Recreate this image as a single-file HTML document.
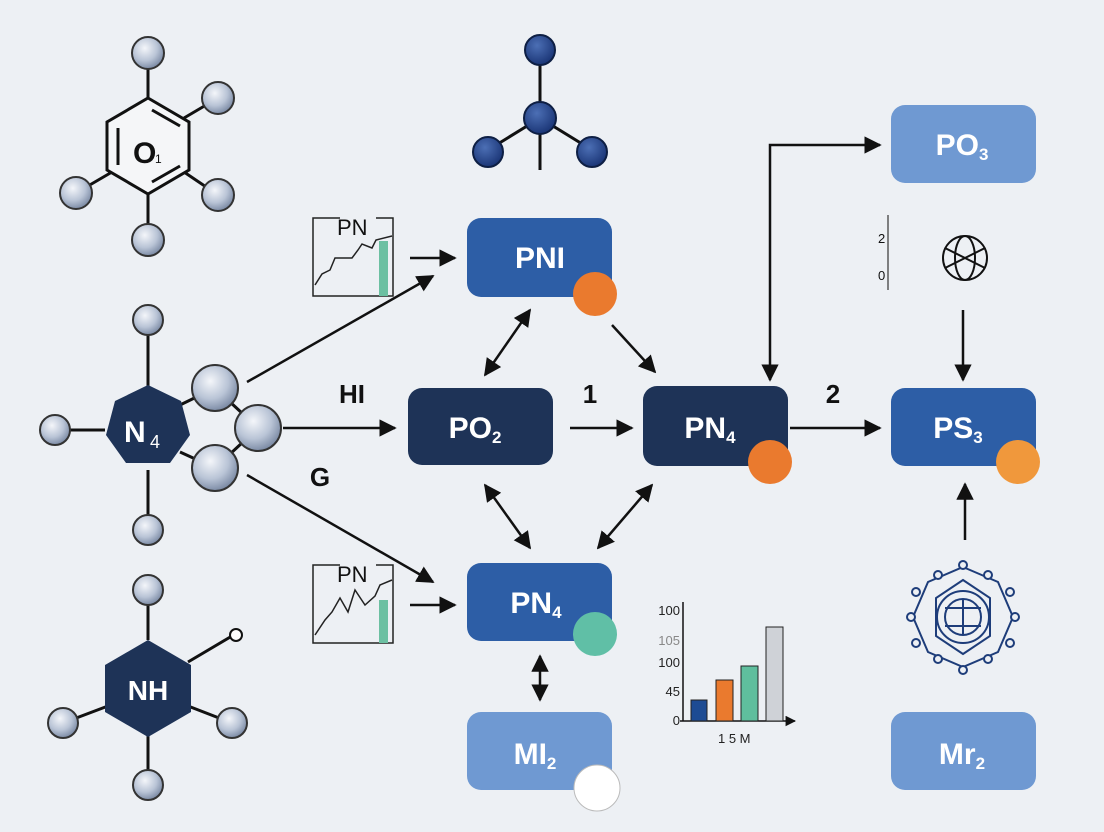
<!DOCTYPE html>
<html><head><meta charset="utf-8"><style>
html,body{margin:0;padding:0;background:#edf0f4;}
svg{display:block}
text{font-family:"Liberation Sans",sans-serif;}
</style></head><body>
<svg width="1104" height="832" viewBox="0 0 1104 832" xmlns="http://www.w3.org/2000/svg">
<defs>
<radialGradient id="ball" cx="40%" cy="35%" r="65%"><stop offset="0" stop-color="#f4f6fa"/><stop offset="0.6" stop-color="#b9c4d6"/><stop offset="1" stop-color="#7d8ca6"/></radialGradient>
<radialGradient id="dball" cx="40%" cy="35%" r="65%"><stop offset="0" stop-color="#4c6fb5"/><stop offset="1" stop-color="#1b3677"/></radialGradient>
<marker id="ah" viewBox="0 0 10 10" refX="9" refY="5" markerWidth="7" markerHeight="7" orient="auto-start-reverse"><path d="M0,0 L10,5 L0,10 z" fill="#111"/></marker>
</defs>
<rect width="1104" height="832" fill="#edf0f4"/>
<g stroke="#111" stroke-width="3" fill="none">
<line x1="148" y1="53" x2="148" y2="110"/><line x1="218" y1="98" x2="184" y2="118"/><line x1="218" y1="195" x2="184" y2="172"/><line x1="148" y1="240" x2="148" y2="194"/><line x1="76" y1="193" x2="112" y2="172"/>
<polygon points="148,98 189,122 189,170 148,194 107,170 107,122" fill="#f5f6f8"/>
<line x1="118" y1="128" x2="118" y2="165"/><line x1="152" y1="110" x2="180" y2="126"/><line x1="152" y1="182" x2="180" y2="166"/>
<line x1="148" y1="320" x2="148" y2="390"/><line x1="148" y1="530" x2="148" y2="470"/><line x1="55" y1="430" x2="105" y2="430"/>
<line x1="180" y1="405" x2="215" y2="388"/><line x1="180" y1="452" x2="215" y2="468"/><line x1="215" y1="388" x2="258" y2="428"/><line x1="215" y1="468" x2="258" y2="428"/>
<line x1="148" y1="590" x2="148" y2="640"/><line x1="232" y1="636" x2="188" y2="662"/><line x1="63" y1="723" x2="108" y2="706"/><line x1="232" y1="723" x2="188" y2="706"/><line x1="148" y1="785" x2="148" y2="735"/>
<line x1="540" y1="50" x2="540" y2="170"/><line x1="540" y1="118" x2="488" y2="150"/><line x1="540" y1="118" x2="592" y2="150"/>
</g>
<polygon points="148,385 181,401 190,435 170,463 126,463 106,435 115,401" fill="#1e3357"/>
<polygon points="148,640 191,665 191,712 148,737 105,712 105,665" fill="#1e3357"/>
<g fill="url(#ball)" stroke="#333" stroke-width="2">
<circle cx="148" cy="53" r="16"/><circle cx="218" cy="98" r="16"/><circle cx="218" cy="195" r="16"/><circle cx="148" cy="240" r="16"/><circle cx="76" cy="193" r="16"/>
<circle cx="148" cy="320" r="15"/><circle cx="148" cy="530" r="15"/><circle cx="55" cy="430" r="15"/>
<circle cx="215" cy="388" r="23"/><circle cx="258" cy="428" r="23"/><circle cx="215" cy="468" r="23"/>
<circle cx="148" cy="590" r="15"/><circle cx="63" cy="723" r="15"/><circle cx="232" cy="723" r="15"/><circle cx="148" cy="785" r="15"/>
</g>
<circle cx="236" cy="635" r="6" fill="#fff" stroke="#111" stroke-width="2"/>
<g fill="url(#dball)" stroke="#0e1f44" stroke-width="2">
<circle cx="540" cy="50" r="15"/><circle cx="540" cy="118" r="16"/><circle cx="488" cy="152" r="15"/><circle cx="592" cy="152" r="15"/>
</g>
<text x="133" y="163" font-size="30" font-weight="bold" fill="#111">O</text><text x="155" y="163" font-size="12" fill="#111">1</text>
<text x="124" y="442" font-size="30" font-weight="bold" fill="#fff">N</text><text x="150" y="448" font-size="18" fill="#fff">4</text>
<text x="148" y="700" font-size="28" font-weight="bold" fill="#fff" text-anchor="middle">NH</text>
<g fill="none" stroke="#222" stroke-width="1.5">
<rect x="313" y="218" width="80" height="78"/><polyline points="315,285 322,274 330,270 335,258 352,258 358,250 362,244 372,248 376,240 392,236"/>
<rect x="313" y="565" width="80" height="78"/><polyline points="315,635 325,620 332,612 340,598 348,612 355,590 365,605 375,596 380,585 392,580"/>
</g>
<rect x="340" y="210" width="36" height="26" fill="#edf0f4"/><rect x="340" y="557" width="36" height="26" fill="#edf0f4"/>
<rect x="379" y="241" width="9" height="55" fill="#6cc0a2"/><rect x="379" y="600" width="9" height="43" fill="#6cc0a2"/>
<text x="337" y="235" font-size="22" fill="#111">PN</text><text x="337" y="582" font-size="22" fill="#111">PN</text>
<g stroke="#111" stroke-width="2.5" fill="none">
<line x1="247" y1="382" x2="433" y2="276" marker-end="url(#ah)"/>
<line x1="283" y1="428" x2="395" y2="428" marker-end="url(#ah)"/>
<line x1="247" y1="475" x2="433" y2="582" marker-end="url(#ah)"/>
<line x1="410" y1="258" x2="455" y2="258" marker-end="url(#ah)"/>
<line x1="410" y1="605" x2="455" y2="605" marker-end="url(#ah)"/>
<line x1="530" y1="310" x2="485" y2="375" marker-start="url(#ah)" marker-end="url(#ah)"/>
<line x1="612" y1="325" x2="655" y2="372" marker-end="url(#ah)"/>
<line x1="570" y1="428" x2="632" y2="428" marker-end="url(#ah)"/>
<line x1="485" y1="485" x2="530" y2="548" marker-start="url(#ah)" marker-end="url(#ah)"/>
<line x1="652" y1="485" x2="598" y2="548" marker-start="url(#ah)" marker-end="url(#ah)"/>
<line x1="790" y1="428" x2="880" y2="428" marker-end="url(#ah)"/>
<path d="M770,380 L770,145 L880,145" marker-start="url(#ah)" marker-end="url(#ah)"/>
<line x1="963" y1="310" x2="963" y2="380" marker-end="url(#ah)"/>
<line x1="965" y1="540" x2="965" y2="484" marker-end="url(#ah)"/>
<line x1="540" y1="656" x2="540" y2="700" marker-start="url(#ah)" marker-end="url(#ah)"/>
</g>
<text x="352" y="403" font-size="26" font-weight="bold" fill="#111" text-anchor="middle">HI</text>
<text x="320" y="486" font-size="26" font-weight="bold" fill="#111" text-anchor="middle">G</text>
<text x="590" y="403" font-size="26" font-weight="bold" fill="#111" text-anchor="middle">1</text>
<text x="833" y="403" font-size="26" font-weight="bold" fill="#111" text-anchor="middle">2</text>
<rect x="467" y="218" width="145" height="79" rx="14" fill="#2d5ea6"/>
<rect x="408" y="388" width="145" height="77" rx="14" fill="#1e3357"/>
<rect x="643" y="386" width="145" height="80" rx="14" fill="#1e3357"/>
<rect x="891" y="388" width="145" height="78" rx="14" fill="#2d5ea6"/>
<rect x="467" y="563" width="145" height="78" rx="14" fill="#2d5ea6"/>
<rect x="467" y="712" width="145" height="78" rx="14" fill="#6f99d2"/>
<rect x="891" y="105" width="145" height="78" rx="14" fill="#6f99d2"/>
<rect x="891" y="712" width="145" height="78" rx="14" fill="#6f99d2"/>
<circle cx="595" cy="294" r="22" fill="#ea7a2e"/>
<circle cx="770" cy="462" r="22" fill="#ea7a2e"/>
<circle cx="1018" cy="462" r="22" fill="#f0983c"/>
<circle cx="595" cy="634" r="22" fill="#60bfa6"/>
<circle cx="597" cy="788" r="23" fill="#fff" stroke="#bbb" stroke-width="1"/>
<g font-size="30" font-weight="bold" fill="#fff" text-anchor="middle">
<text x="540" y="268">PNI</text>
<text x="475" y="438">PO<tspan font-size="17" dy="5">2</tspan></text>
<text x="710" y="438">PN<tspan font-size="17" dy="5">4</tspan></text>
<text x="958" y="438">PS<tspan font-size="17" dy="5">3</tspan></text>
<text x="536" y="613">PN<tspan font-size="17" dy="5">4</tspan></text>
<text x="535" y="764">MI<tspan font-size="17" dy="5">2</tspan></text>
<text x="962" y="155">PO<tspan font-size="17" dy="5">3</tspan></text>
<text x="962" y="764">Mr<tspan font-size="17" dy="5">2</tspan></text>
</g>
<g stroke="#333" stroke-width="1.2"><line x1="888" y1="215" x2="888" y2="290"/></g>
<text x="878" y="243" font-size="13" fill="#111">2</text><text x="878" y="280" font-size="13" fill="#111">0</text>
<g fill="none" stroke="#111" stroke-width="2"><circle cx="965" cy="258" r="22"/><ellipse cx="965" cy="258" rx="10" ry="22"/><line x1="945" y1="248" x2="985" y2="268"/><line x1="945" y1="268" x2="985" y2="248"/></g>
<!-- network icon -->
<g fill="none" stroke="#1e3d7a" stroke-width="2">
<polygon points="963,567 998,582 1013,617 998,652 963,667 928,652 913,617 928,582"/>
<polygon points="963,580 990,598 990,636 963,654 936,636 936,598"/>
<circle cx="963" cy="617" r="26"/><circle cx="963" cy="617" r="18"/>
<line x1="945" y1="608" x2="981" y2="608"/><line x1="945" y1="626" x2="981" y2="626"/><line x1="963" y1="600" x2="963" y2="634"/>
</g>
<g fill="#edf0f4" stroke="#1e3d7a" stroke-width="2">
<circle cx="963" cy="565" r="4"/><circle cx="963" cy="670" r="4"/><circle cx="911" cy="617" r="4"/><circle cx="1015" cy="617" r="4"/>
<circle cx="938" cy="575" r="4"/><circle cx="988" cy="575" r="4"/><circle cx="938" cy="659" r="4"/><circle cx="988" cy="659" r="4"/>
<circle cx="916" cy="592" r="4"/><circle cx="1010" cy="592" r="4"/><circle cx="916" cy="643" r="4"/><circle cx="1010" cy="643" r="4"/>
</g>
<g stroke="#111" stroke-width="1.5"><line x1="683" y1="602" x2="683" y2="721"/><line x1="680" y1="721" x2="795" y2="721" marker-end="url(#ah)"/></g>
<rect x="691" y="700" width="16" height="21" fill="#1d4b93" stroke="#222"/>
<rect x="716" y="680" width="17" height="41" fill="#ea7a2e" stroke="#222"/>
<rect x="741" y="666" width="17" height="55" fill="#5fbe9d" stroke="#222"/>
<rect x="766" y="627" width="17" height="94" fill="#cfd2d7" stroke="#222"/>
<g font-size="13" fill="#222" text-anchor="end"><text x="680" y="615">100</text><text x="680" y="645" fill="#888">105</text><text x="680" y="667">100</text><text x="680" y="696">45</text><text x="680" y="725">0</text></g>
<text x="718" y="743" font-size="13" fill="#222">1 5  M</text>
</svg>
</body></html>
